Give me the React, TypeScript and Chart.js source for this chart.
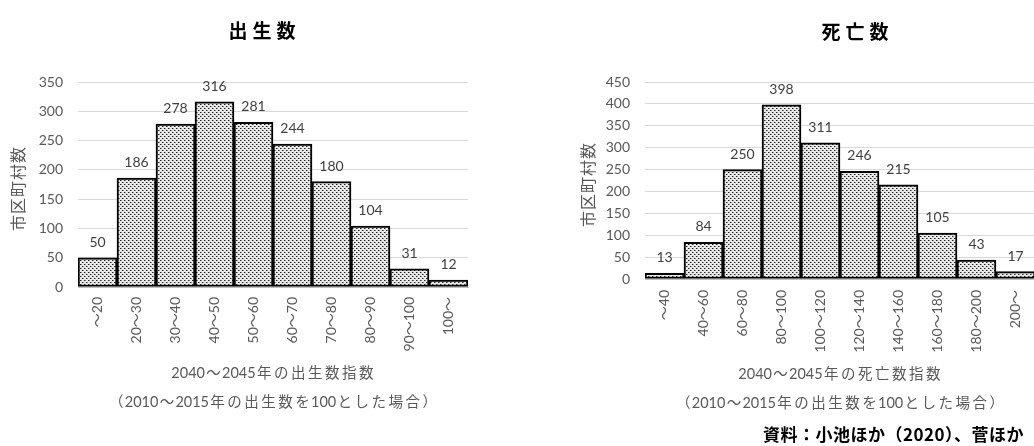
import React, { useEffect, useRef } from "react";
import { Chart, registerables } from "chart.js";

Chart.register(...registerables);

const birthCategories = ["～20", "20～30", "30～40", "40～50", "50～60", "60～70", "70～80", "80～90", "90～100", "100～"];
const birthValues = [50, 186, 278, 316, 281, 244, 180, 104, 31, 12];
const birthTicks = [0, 50, 100, 150, 200, 250, 300, 350];

const deathCategories = ["～40", "40～60", "60～80", "80～100", "100～120", "120～140", "140～160", "160～180", "180～200", "200～"];
const deathValues = [13, 84, 250, 398, 311, 246, 215, 105, 43, 17];
const deathTicks = [0, 50, 100, 150, 200, 250, 300, 350, 400, 450];

const birthTitle = "出生数";
const deathTitle = "死亡数";
const yAxisTitle = "市区町村数";
const birthXTitle = ["2040～2045年の出生数指数", "（2010～2015年の出生数を100とした場合）"];
const deathXTitle = ["2040～2045年の死亡数指数", "（2010～2015年の出生数を100とした場合）"];
const sourceText = "資料：小池ほか（2020）、菅ほか";

const NUM_FONT = 'Lato, "Noto Sans CJK JP", sans-serif';
const JP_FONT = '"Noto Sans CJK JP", sans-serif';

function makePattern(): CanvasPattern | string {
  const c = document.createElement("canvas");
  c.width = 4;
  c.height = 4;
  const g = c.getContext("2d");
  if (!g) return "#bbbbbb";
  g.fillStyle = "#e8e8e8";
  g.fillRect(0, 0, 4, 4);
  g.fillStyle = "#222222";
  g.fillRect(0, 0, 1, 1);
  g.fillRect(2, 2, 1, 1);
  g.fillStyle = "#8a8a8a";
  g.fillRect(1, 0, 1, 1);
  g.fillRect(3, 2, 1, 1);
  const p = g.createPattern(c, "repeat");
  return p || "#bbbbbb";
}

type TextCfg = {
  title: string;
  titleX: number;
  titleY: number;
  yTitleX: number;
  yTitleY: number;
  xTitle: string[];
  xTitleX: number;
  xTitleY: number[];
  source?: { text: string; x: number; y: number };
};

function spacedText(ctx: CanvasRenderingContext2D, text: string, x: number, y: number, spacing: number) {
  (ctx as any).letterSpacing = spacing + "px";
  ctx.fillText(text, x + spacing / 2, y);
  (ctx as any).letterSpacing = "0px";
}

// digits drawn tight, other (full-width) characters with extra spacing, centred on cx
function mixedText(ctx: CanvasRenderingContext2D, text: string, cx: number, y: number, spacing: number) {
  const tokens = text.match(/[0-9]+|[^0-9]/g) || [];
  const widths = tokens.map((t) => ctx.measureText(t).width + (/^[0-9]+$/.test(t) ? 0 : spacing));
  const total = widths.reduce((a, b) => a + b, 0);
  let x = cx - total / 2;
  ctx.textAlign = "left";
  tokens.forEach((t, i) => {
    const isDigit = /^[0-9]+$/.test(t);
    ctx.fillText(t, x + (isDigit ? 0 : spacing / 2), y);
    x += widths[i];
  });
  ctx.textAlign = "center";
}

function makeTextPlugin(cfg: TextCfg) {
  return {
    id: "customText",
    afterDatasetsDraw(chart: any) {
      const ctx: CanvasRenderingContext2D = chart.ctx;
      const meta = chart.getDatasetMeta(0);
      const data = chart.data.datasets[0].data as number[];
      ctx.save();
      // bar value labels
      ctx.font = `14px ${NUM_FONT}`;
      ctx.fillStyle = "#404040";
      ctx.textAlign = "center";
      ctx.textBaseline = "middle";
      meta.data.forEach((bar: any, i: number) => {
        ctx.fillText(String(data[i]), bar.x, bar.y - 15.5);
      });
      // chart title
      ctx.font = `bold 19px ${JP_FONT}`;
      ctx.fillStyle = "#000000";
      spacedText(ctx, cfg.title, cfg.titleX, cfg.titleY, 5);
      // x title
      ctx.font = `14.5px ${NUM_FONT}`;
      ctx.fillStyle = "#595959";
      cfg.xTitle.forEach((t, i) => mixedText(ctx, t, cfg.xTitleX, cfg.xTitleY[i], 2.5));
      // y title
      ctx.save();
      ctx.translate(cfg.yTitleX, cfg.yTitleY);
      ctx.rotate(-Math.PI / 2);
      ctx.font = `16px ${JP_FONT}`;
      spacedText(ctx, yAxisTitle, 0, 0, 1);
      ctx.restore();
      // source
      if (cfg.source) {
        ctx.font = `bold 17px ${JP_FONT}`;
        ctx.fillStyle = "#000000";
        ctx.textAlign = "left";
        (ctx as any).letterSpacing = "0.5px";
        ctx.fillText(cfg.source.text, cfg.source.x, cfg.source.y);
        (ctx as any).letterSpacing = "0px";
      }
      ctx.restore();
    },
  };
}

function buildConfig(
  labels: string[],
  values: number[],
  ticks: number[],
  padding: { left: number; right: number; top: number; bottom: number },
  labelPad: number,
  text: TextCfg
): any {
  const pattern = makePattern();
  return {
    type: "bar",
    data: {
      labels,
      datasets: [
        {
          data: values,
          backgroundColor: pattern,
          borderColor: "#000000",
          borderWidth: 2,
          borderSkipped: false,
          categoryPercentage: 1,
          barPercentage: 1,
        },
      ],
    },
    options: {
      animation: false,
      responsive: false,
      devicePixelRatio: 1,
      layout: { padding },
      plugins: {
        legend: { display: false },
        tooltip: { enabled: false },
        title: { display: false },
      },
      scales: {
        x: {
          grid: { display: false, drawTicks: false },
          border: { display: true, color: "#bfbfbf", width: 1 },
          ticks: {
            autoSkip: false,
            minRotation: 90,
            maxRotation: 90,
            padding: labelPad,
            color: "#595959",
            font: { family: NUM_FONT, size: 14 },
          },
          afterFit: (s: any) => {
            s.height = 100;
          },
        },
        y: {
          min: ticks[0],
          max: ticks[ticks.length - 1],
          grid: { color: "#d9d9d9", lineWidth: 1, drawTicks: false },
          border: { display: false },
          afterBuildTicks: (s: any) => {
            s.ticks = ticks.map((v) => ({ value: v }));
          },
          ticks: {
            padding: 15,
            color: "#595959",
            font: { family: NUM_FONT, size: 14 },
          },
          afterFit: (s: any) => {
            s.width = 60;
          },
        },
      },
    },
    plugins: [makeTextPlugin(text)],
  };
}

export default function App() {
  const leftRef = useRef<HTMLCanvasElement | null>(null);
  const rightRef = useRef<HTMLCanvasElement | null>(null);

  useEffect(() => {
    if (!leftRef.current || !rightRef.current) return;
    const left = new Chart(
      leftRef.current,
      buildConfig(
        birthCategories,
        birthValues,
        birthTicks,
        { left: 18, right: 56, top: 82, bottom: 59 },
        10,
        {
          title: birthTitle,
          titleX: 262,
          titleY: 31,
          yTitleX: 18,
          yTitleY: 189,
          xTitle: birthXTitle,
          xTitleX: 273,
          xTitleY: [373, 402],
        }
      )
    );
    const right = new Chart(
      rightRef.current,
      buildConfig(
        deathCategories,
        deathValues,
        deathTicks,
        { left: 25, right: 115, top: 82, bottom: 67 },
        11,
        {
          title: deathTitle,
          titleX: 295,
          titleY: 32,
          yTitleX: 28,
          yTitleY: 185,
          xTitle: deathXTitle,
          xTitleX: 280,
          xTitleY: [374, 403],
          source: { text: sourceText, x: 203, y: 435 },
        }
      )
    );
    return () => {
      left.destroy();
      right.destroy();
    };
  }, []);

  return (
    <div
      style={{
        position: "fixed",
        left: 0,
        top: 0,
        width: 1034,
        height: 446,
        overflow: "hidden",
        background: "#ffffff",
      }}
    >
      <canvas ref={leftRef} width={524} height={446} style={{ position: "absolute", left: 0, top: 0 }} />
      <canvas ref={rightRef} width={590} height={446} style={{ position: "absolute", left: 560, top: 0 }} />
    </div>
  );
}
